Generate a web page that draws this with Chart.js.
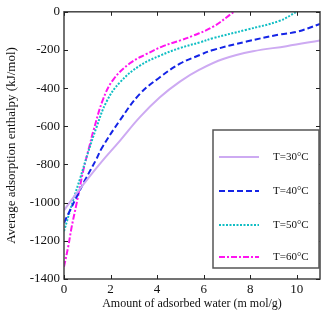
<!DOCTYPE html>
<html>
<head>
<meta charset="utf-8">
<script src="https://cdn.jsdelivr.net/npm/chart.js@4/dist/chart.umd.min.js"></script>
<style>
  html, body { margin: 0; padding: 0; background: #fff; }
  #wrap { width: 333px; height: 321px; }
</style>
</head>
<body>
<div id="wrap"><canvas id="c" width="333" height="321"></canvas></div>
<script>
// values
var labels = ['T=30°C', 'T=40°C', 'T=50°C', 'T=60°C'];

var x30 = [0, 0.7, 1.55, 2.4, 3.26, 4.12, 4.98, 5.84, 6.84, 8.12, 9.56, 11];
var y30 = [-1040, -925, -795, -676, -552, -448, -366, -302, -247, -207, -180, -150];

var x40 = [0, 0.26, 0.54, 0.9, 1.4, 1.62, 2.4, 3.26, 4.12, 4.98, 5.84, 6.41, 7.84, 9.27, 10, 11];
var y40 = [-1105, -1040, -970, -883, -770, -715, -569, -430, -343, -272, -226, -200, -156, -119, -105, -64];

var x50 = [0, 0.4, 0.7, 1.0, 1.4, 1.83, 2.4, 3.26, 4.12, 4.98, 5.84, 6.41, 7.84, 9.27, 10];
var y50 = [-1150, -985, -870, -750, -604, -470, -370, -282, -230, -190, -160, -138, -94, -47, 0];

var x60 = [0, 0.18, 0.33, 0.54, 0.83, 1.12, 1.26, 1.69, 2.12, 2.83, 3.55, 4.26, 5.0, 5.55, 6.41, 7.3];
var y60 = [-1336, -1231, -1127, -1005, -831, -691, -625, -455, -355, -270, -221, -180, -150, -125, -78, 0];

var xTicks = [0, 2, 4, 6, 8, 10];
var yTicks = [-1400, -1200, -1000, -800, -600, -400, -200, 0];

function pts(xs, ys) {
    return xs.map(function (x, i) { return {x: x, y: ys[i]}; });
}

var serif = "'Liberation Serif', 'Times New Roman', serif";

// frame, inward ticks on all sides, boxed legend
var framePlugin = {
    id: 'frame',
    afterDraw: function (chart) {
        var ctx = chart.ctx, a = chart.chartArea;
        var sx = chart.scales.x, sy = chart.scales.y;
        ctx.save();
        ctx.strokeStyle = '#444';
        ctx.lineWidth = 1.5;
        ctx.strokeRect(a.left, a.top, a.right - a.left, a.bottom - a.top);
        ctx.lineWidth = 1;
        ctx.strokeStyle = '#222';
        ctx.beginPath();
        xTicks.forEach(function (v) {
            var px = Math.round(sx.getPixelForValue(v)) + 0.5;
            ctx.moveTo(px, a.bottom); ctx.lineTo(px, a.bottom - 4);
            ctx.moveTo(px, a.top); ctx.lineTo(px, a.top + 4);
        });
        yTicks.forEach(function (v) {
            var py = Math.round(sy.getPixelForValue(v)) + 0.5;
            ctx.moveTo(a.left, py); ctx.lineTo(a.left + 4, py);
            ctx.moveTo(a.right, py); ctx.lineTo(a.right - 4, py);
        });
        ctx.stroke();

        // legend box
        var bx = a.right - 107, by = a.bottom - 149, bw = 106, bh = 138;
        ctx.fillStyle = '#fff';
        ctx.fillRect(bx, by, bw, bh);
        ctx.strokeStyle = '#555';
        ctx.lineWidth = 1.5;
        ctx.strokeRect(bx, by, bw, bh);
        var rows = [27, 61, 95, 127];
        ctx.font = '11px ' + serif;
        ctx.textBaseline = 'middle';
        chart.data.datasets.forEach(function (ds, i) {
            var yy = by + rows[i];
            ctx.strokeStyle = ds.borderColor;
            ctx.lineWidth = ds.borderWidth;
            ctx.setLineDash(ds.borderDash || []);
            ctx.beginPath();
            ctx.moveTo(bx + 6, yy); ctx.lineTo(bx + 46, yy);
            ctx.stroke();
            ctx.setLineDash([]);
            ctx.fillStyle = '#111';
            ctx.fillText(ds.label, bx + 60, yy);
        });
        ctx.restore();
    }
};

new Chart(document.getElementById('c'), {
    type: 'scatter',
    data: {
        datasets: [
            {label: labels[0], data: pts(x30, y30), borderColor: '#CDAAF2', borderWidth: 2, borderDash: []},
            {label: labels[1], data: pts(x40, y40), borderColor: '#1424E6', borderWidth: 2, borderDash: [6, 3]},
            {label: labels[2], data: pts(x50, y50), borderColor: '#10BEC4', borderWidth: 2, borderDash: [2, 1.5]},
            {label: labels[3], data: pts(x60, y60), borderColor: '#FF14F0', borderWidth: 2, borderDash: [6, 2, 2, 2]}
        ].map(function (d) {
            d.showLine = true;
            d.pointRadius = 0;
            d.tension = 0.4;
            d.fill = false;
            return d;
        })
    },
    options: {
        responsive: false,
        animation: false,
        layout: {padding: {left: 0, right: 13, top: 11, bottom: 0}},
        plugins: {legend: {display: false}, tooltip: {enabled: false}},
        scales: {
            x: {
                type: 'linear', min: 0, max: 11,
                grid: {display: false, drawTicks: false},
                border: {display: false},
                ticks: {
                    stepSize: 2, includeBounds: false, padding: 3,
                    color: '#111', font: {family: serif, size: 13},
                    callback: function (v) { return String(v); }
                },
                title: {
                    display: true, text: 'Amount of adsorbed water (m mol/g)',
                    color: '#111', font: {family: serif, size: 12},
                    padding: {top: 4, bottom: 10}
                },
                afterFit: function (s) { s.height = 42; }
            },
            y: {
                type: 'linear', min: -1400, max: 0,
                grid: {display: false, drawTicks: false},
                border: {display: false},
                ticks: {
                    stepSize: 200, padding: 4,
                    color: '#111', font: {family: serif, size: 13},
                    callback: function (v) { return String(v); }
                },
                title: {
                    display: true, text: 'Average adsorption enthalpy (kJ/mol)',
                    color: '#111', font: {family: serif, size: 13},
                    padding: {top: 4, bottom: 4}
                },
                afterFit: function (s) { s.width = 64; }
            }
        }
    },
    plugins: [framePlugin]
});
</script>
</body>
</html>
